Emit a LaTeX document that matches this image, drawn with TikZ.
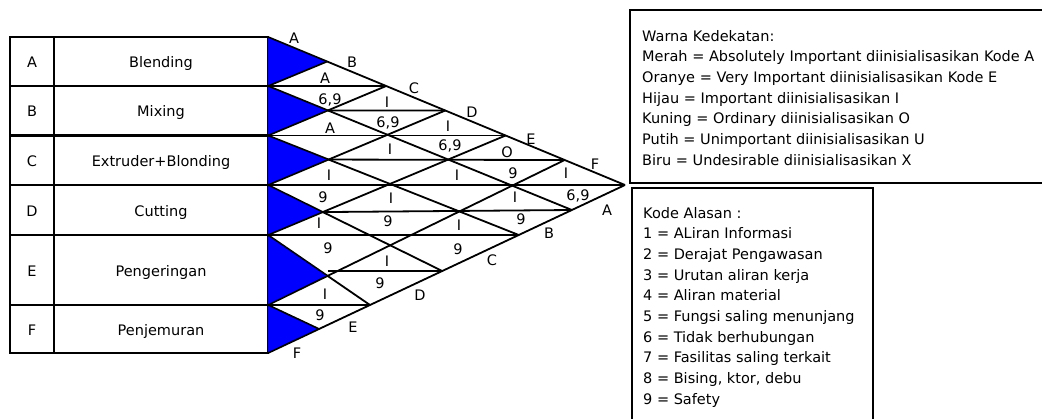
\documentclass[tikz,border=0pt]{standalone}
\usepackage{fontspec}
\setmainfont{DejaVu Sans}
\begin{document}
\begin{tikzpicture}[x=1pt,y=-1pt,
  txt/.style={font=\fontsize{14.5}{17}\selectfont, inner sep=0pt, text height=10.6pt, text depth=0pt},
  tblline/.style={line width=2.4pt},
  gridline/.style={line width=1.8pt, line join=miter},
  boxline/.style={line width=2.4pt},
  lean/.style={fill=blue}]
\useasboundingbox (0,0) rectangle (1042,418);

% ---------- table of departments ----------
\draw[tblline] (10,37) rectangle (268,353);
\draw[tblline] (54,37) -- (54,353);
\foreach \yy in {86,135.5,185,235,305}
  \draw[tblline] (10,\yy) -- (268,\yy);

\node[txt] (kA) at (32,62.5)  {A};  \node[txt] (nA) at (161,62.5)  {Blending};
\node[txt] (kB) at (32,111.5) {B};  \node[txt] (nB) at (161,111.5) {Mixing};
\node[txt] (kC) at (32,161)   {C};  \node[txt] (nC) at (161,161)   {Extruder+Blonding};
\node[txt] (kD) at (32,211)   {D};  \node[txt] (nD) at (161,211)   {Cutting};
\node[txt] (kE) at (32,271)   {E};  \node[txt] (nE) at (161,271)   {Pengeringan};
\node[txt] (kF) at (32,330)   {F};  \node[txt] (nF) at (161,330)   {Penjemuran};

% ---------- relationship chart ----------
% row boundaries on the left side
\coordinate (b0) at (268,37);
\coordinate (b1) at (268,86);
\coordinate (b2) at (268,135.5);
\coordinate (b3) at (268,185);
\coordinate (b4) at (268,235);
\coordinate (b5) at (268,305);
\coordinate (b6) at (268,353);
\coordinate (T)  at (625,185);
% points on the upper edge
\coordinate (up1) at (327.1,61.5);
\coordinate (up2) at (386.2,86);
\coordinate (up3) at (445.3,110.5);
\coordinate (up4) at (505.6,135.5);
\coordinate (up5) at (564.7,160);
% points on the lower edge
\coordinate (lo7)  at (571.9,210);
\coordinate (lo8)  at (518.75,235);
\coordinate (lo9)  at (442.25,271);
\coordinate (lo10) at (370,305);
\coordinate (lo11) at (319,329);
% tips of the row triangles
\coordinate (tB) at (intersection of b1--lo7 and b2--up2);
\coordinate (tC) at (intersection of b2--lo8 and b3--up3);
\coordinate (tD) at (intersection of b3--lo9 and b4--up4);
\coordinate (tE) at (intersection of b4--lo10 and b5--up5);

% blue row triangles
\fill[lean] (b0) -- (b1) -- (up1) -- cycle;
\fill[lean] (b1) -- (b2) -- (tB) -- cycle;
\fill[lean] (b2) -- (b3) -- (tC) -- cycle;
\fill[lean] (b3) -- (b4) -- (tD) -- cycle;
\fill[lean] (b4) -- (b5) -- (tE) -- cycle;
\fill[lean] (b5) -- (b6) -- (lo11) -- cycle;

% descending diagonals
\draw[gridline] (b0) -- (T);
\draw[gridline] (b1) -- (lo7);
\draw[gridline] (b2) -- (lo8);
\draw[gridline] (b3) -- (lo9);
\draw[gridline] (b4) -- (lo10);
\draw[gridline] (b5) -- (lo11);
% ascending diagonals
\draw[gridline] (b1) -- (up1);
\draw[gridline] (b2) -- (up2);
\draw[gridline] (b3) -- (up3);
\draw[gridline] (b4) -- (up4);
\draw[gridline] (b5) -- (up5);
\draw[gridline] (b6) -- (T);
% horizontal splits of the diamonds
\draw[gridline] (b1) -- (up2);
\draw[gridline] (tB) -- (up3);
\draw[gridline] (b2) -- (up4);
\draw[gridline] (tC) -- (up5);
\draw[gridline] (b3) -- (T);
\draw[gridline] (tD) -- (lo7);
\draw[gridline] (b4) -- (lo8);
\draw[gridline] (tE |- lo9) -- (lo9);
\draw[gridline] (b5) -- (lo10);

% letters along the upper edge
\node[txt] (uA) at (294,38)  {A};
\node[txt] (uB) at (352,62)  {B};
\node[txt] (uC) at (414,88)  {C};
\node[txt] (uD) at (472,112) {D};
\node[txt] (uE) at (531,139) {E};
\node[txt] (uF) at (595,164) {F};
% letters along the lower edge
\node[txt] (dA) at (607,210) {A};
\node[txt] (dB) at (549,233) {B};
\node[txt] (dC) at (492,260) {C};
\node[txt] (dD) at (420,295) {D};
\node[txt] (dE) at (353,327) {E};
\node[txt] (dF) at (297,353) {F};

% closeness ratings (upper half) and reasons (lower half)
\node[txt] (rAB) at (325,78)  {A};   \node[txt] (cAB) at (330,99)  {6,9};
\node[txt] (rAC) at (387,102) {I};   \node[txt] (cAC) at (388,122) {6,9};
\node[txt] (rBC) at (330,128) {A};
\node[txt] (rAD) at (448,126) {I};   \node[txt] (cAD) at (450,145) {6,9};
\node[txt] (rBD) at (390,149) {I};
\node[txt] (rAE) at (507,152) {O};   \node[txt] (cAE) at (513,173) {9};
\node[txt] (rCD) at (329,175) {I};   \node[txt] (cCD) at (323,197) {9};
\node[txt] (rBE) at (457,175) {I};
\node[txt] (rAF) at (566,173) {I};   \node[txt] (cAF) at (578,195) {6,9};
\node[txt] (rCE) at (391,198) {I};   \node[txt] (cCE) at (388,221) {9};
\node[txt] (rBF) at (515,197) {I};   \node[txt] (cBF) at (521,219) {9};
\node[txt] (rDE) at (319,223) {I};   \node[txt] (cDE) at (328,248) {9};
\node[txt] (rCF) at (459,225) {I};   \node[txt] (cCF) at (458,249) {9};
\node[txt] (rDF) at (387,261) {I};   \node[txt] (cDF) at (380,283) {9};
\node[txt] (rEF) at (325,294) {I};   \node[txt] (cEF) at (320,315) {9};

% ---------- legend boxes ----------
\draw[boxline] (1046,10) -| (630,183) -- (1046,183);
\draw[boxline] (632,422) |- (873,188) -- (873,422);

\foreach \t [count=\i from 0] in {
    {Warna Kedekatan:},
    {Merah = Absolutely Important diinisialisasikan Kode A},
    {Oranye = Very Important diinisialisasikan Kode E},
    {Hijau = Important diinisialisasikan I},
    {Kuning = Ordinary diinisialisasikan O},
    {Putih = Unimportant diinisialisasikan U},
    {Biru = Undesirable diinisialisasikan X}}
  \node[txt, anchor=west] (w\i) at (642,{36+20.67*\i}) {\t};

\foreach \t [count=\i from 0] in {
    {Kode Alasan :},
    {1 = ALiran Informasi},
    {2 = Derajat Pengawasan},
    {3 = Urutan aliran kerja},
    {4 = Aliran material},
    {5 = Fungsi saling menunjang},
    {6 = Tidak berhubungan},
    {7 = Fasilitas saling terkait},
    {8 = Bising, ktor, debu},
    {9 = Safety}}
  \node[txt, anchor=west] (k\i) at (643,{213+20.67*\i}) {\t};
\end{tikzpicture}
\end{document}
